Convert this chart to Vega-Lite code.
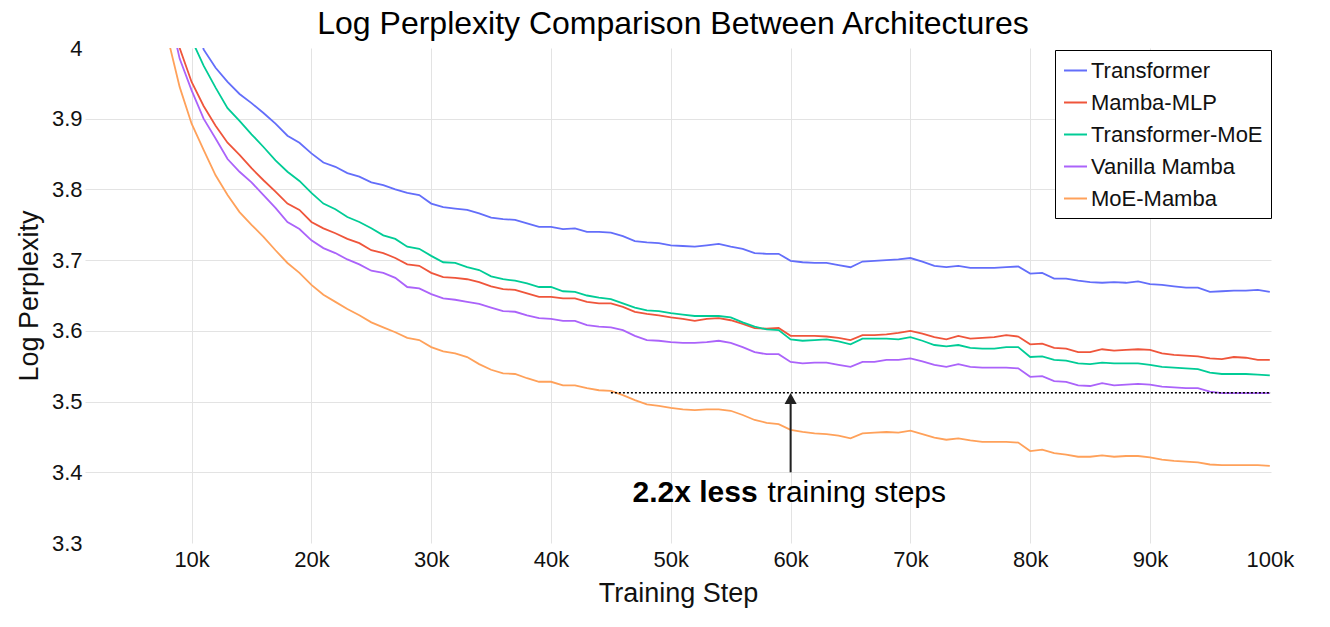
{
  "$schema": "https://vega.github.io/schema/vega-lite/v6.json",
  "description": "Log perplexity vs training step for five architectures.",
  "autosize": {"type": "none"},
  "width": 1186,
  "height": 495,
  "padding": {"left": 85, "top": 48, "right": 59, "bottom": 84},
  "title": {
    "text": "Log Perplexity Comparison Between Architectures",
    "fontSize": 32,
    "fontWeight": "normal",
    "color": "#000",
    "anchor": "middle",
    "offset": -4,
    "dx": -5
  },
  "data": {
    "values": [
      {"step": 10000, "model": "Transformer", "logppl": 4.08},
      {"step": 11000, "model": "Transformer", "logppl": 3.998},
      {"step": 12000, "model": "Transformer", "logppl": 3.972},
      {"step": 13000, "model": "Transformer", "logppl": 3.952},
      {"step": 14000, "model": "Transformer", "logppl": 3.935},
      {"step": 15000, "model": "Transformer", "logppl": 3.922},
      {"step": 16000, "model": "Transformer", "logppl": 3.908},
      {"step": 17000, "model": "Transformer", "logppl": 3.893},
      {"step": 18000, "model": "Transformer", "logppl": 3.876},
      {"step": 19000, "model": "Transformer", "logppl": 3.866},
      {"step": 20000, "model": "Transformer", "logppl": 3.851},
      {"step": 21000, "model": "Transformer", "logppl": 3.838},
      {"step": 22000, "model": "Transformer", "logppl": 3.832},
      {"step": 23000, "model": "Transformer", "logppl": 3.823},
      {"step": 24000, "model": "Transformer", "logppl": 3.818},
      {"step": 25000, "model": "Transformer", "logppl": 3.81},
      {"step": 26000, "model": "Transformer", "logppl": 3.806},
      {"step": 27000, "model": "Transformer", "logppl": 3.8},
      {"step": 28000, "model": "Transformer", "logppl": 3.795},
      {"step": 29000, "model": "Transformer", "logppl": 3.792},
      {"step": 30000, "model": "Transformer", "logppl": 3.78},
      {"step": 31000, "model": "Transformer", "logppl": 3.775},
      {"step": 32000, "model": "Transformer", "logppl": 3.773},
      {"step": 33000, "model": "Transformer", "logppl": 3.771},
      {"step": 34000, "model": "Transformer", "logppl": 3.766},
      {"step": 35000, "model": "Transformer", "logppl": 3.76},
      {"step": 36000, "model": "Transformer", "logppl": 3.758},
      {"step": 37000, "model": "Transformer", "logppl": 3.757},
      {"step": 38000, "model": "Transformer", "logppl": 3.752},
      {"step": 39000, "model": "Transformer", "logppl": 3.747},
      {"step": 40000, "model": "Transformer", "logppl": 3.747},
      {"step": 41000, "model": "Transformer", "logppl": 3.744},
      {"step": 42000, "model": "Transformer", "logppl": 3.745},
      {"step": 43000, "model": "Transformer", "logppl": 3.74},
      {"step": 44000, "model": "Transformer", "logppl": 3.74},
      {"step": 45000, "model": "Transformer", "logppl": 3.739},
      {"step": 46000, "model": "Transformer", "logppl": 3.734},
      {"step": 47000, "model": "Transformer", "logppl": 3.727},
      {"step": 48000, "model": "Transformer", "logppl": 3.725},
      {"step": 49000, "model": "Transformer", "logppl": 3.724},
      {"step": 50000, "model": "Transformer", "logppl": 3.721},
      {"step": 51000, "model": "Transformer", "logppl": 3.72},
      {"step": 52000, "model": "Transformer", "logppl": 3.719},
      {"step": 53000, "model": "Transformer", "logppl": 3.721},
      {"step": 54000, "model": "Transformer", "logppl": 3.723},
      {"step": 55000, "model": "Transformer", "logppl": 3.719},
      {"step": 56000, "model": "Transformer", "logppl": 3.716},
      {"step": 57000, "model": "Transformer", "logppl": 3.71},
      {"step": 58000, "model": "Transformer", "logppl": 3.709},
      {"step": 59000, "model": "Transformer", "logppl": 3.709},
      {"step": 60000, "model": "Transformer", "logppl": 3.699},
      {"step": 61000, "model": "Transformer", "logppl": 3.697},
      {"step": 62000, "model": "Transformer", "logppl": 3.696},
      {"step": 63000, "model": "Transformer", "logppl": 3.696},
      {"step": 64000, "model": "Transformer", "logppl": 3.693},
      {"step": 65000, "model": "Transformer", "logppl": 3.69},
      {"step": 66000, "model": "Transformer", "logppl": 3.698},
      {"step": 67000, "model": "Transformer", "logppl": 3.699},
      {"step": 68000, "model": "Transformer", "logppl": 3.7},
      {"step": 69000, "model": "Transformer", "logppl": 3.701},
      {"step": 70000, "model": "Transformer", "logppl": 3.703},
      {"step": 71000, "model": "Transformer", "logppl": 3.698},
      {"step": 72000, "model": "Transformer", "logppl": 3.692},
      {"step": 73000, "model": "Transformer", "logppl": 3.69},
      {"step": 74000, "model": "Transformer", "logppl": 3.692},
      {"step": 75000, "model": "Transformer", "logppl": 3.689},
      {"step": 76000, "model": "Transformer", "logppl": 3.689},
      {"step": 77000, "model": "Transformer", "logppl": 3.689},
      {"step": 78000, "model": "Transformer", "logppl": 3.69},
      {"step": 79000, "model": "Transformer", "logppl": 3.691},
      {"step": 80000, "model": "Transformer", "logppl": 3.681},
      {"step": 81000, "model": "Transformer", "logppl": 3.682},
      {"step": 82000, "model": "Transformer", "logppl": 3.674},
      {"step": 83000, "model": "Transformer", "logppl": 3.674},
      {"step": 84000, "model": "Transformer", "logppl": 3.671},
      {"step": 85000, "model": "Transformer", "logppl": 3.669},
      {"step": 86000, "model": "Transformer", "logppl": 3.668},
      {"step": 87000, "model": "Transformer", "logppl": 3.669},
      {"step": 88000, "model": "Transformer", "logppl": 3.668},
      {"step": 89000, "model": "Transformer", "logppl": 3.67},
      {"step": 90000, "model": "Transformer", "logppl": 3.666},
      {"step": 91000, "model": "Transformer", "logppl": 3.665},
      {"step": 92000, "model": "Transformer", "logppl": 3.663},
      {"step": 93000, "model": "Transformer", "logppl": 3.661},
      {"step": 94000, "model": "Transformer", "logppl": 3.661},
      {"step": 95000, "model": "Transformer", "logppl": 3.655},
      {"step": 96000, "model": "Transformer", "logppl": 3.656},
      {"step": 97000, "model": "Transformer", "logppl": 3.657},
      {"step": 98000, "model": "Transformer", "logppl": 3.657},
      {"step": 99000, "model": "Transformer", "logppl": 3.658},
      {"step": 100000, "model": "Transformer", "logppl": 3.655},

      {"step": 8000, "model": "Mamba-MLP", "logppl": 4.09},
      {"step": 9000, "model": "Mamba-MLP", "logppl": 4.0},
      {"step": 10000, "model": "Mamba-MLP", "logppl": 3.952},
      {"step": 11000, "model": "Mamba-MLP", "logppl": 3.918},
      {"step": 12000, "model": "Mamba-MLP", "logppl": 3.89},
      {"step": 13000, "model": "Mamba-MLP", "logppl": 3.866},
      {"step": 14000, "model": "Mamba-MLP", "logppl": 3.849},
      {"step": 15000, "model": "Mamba-MLP", "logppl": 3.83},
      {"step": 16000, "model": "Mamba-MLP", "logppl": 3.813},
      {"step": 17000, "model": "Mamba-MLP", "logppl": 3.797},
      {"step": 18000, "model": "Mamba-MLP", "logppl": 3.78},
      {"step": 19000, "model": "Mamba-MLP", "logppl": 3.771},
      {"step": 20000, "model": "Mamba-MLP", "logppl": 3.754},
      {"step": 21000, "model": "Mamba-MLP", "logppl": 3.745},
      {"step": 22000, "model": "Mamba-MLP", "logppl": 3.738},
      {"step": 23000, "model": "Mamba-MLP", "logppl": 3.73},
      {"step": 24000, "model": "Mamba-MLP", "logppl": 3.724},
      {"step": 25000, "model": "Mamba-MLP", "logppl": 3.714},
      {"step": 26000, "model": "Mamba-MLP", "logppl": 3.71},
      {"step": 27000, "model": "Mamba-MLP", "logppl": 3.703},
      {"step": 28000, "model": "Mamba-MLP", "logppl": 3.694},
      {"step": 29000, "model": "Mamba-MLP", "logppl": 3.692},
      {"step": 30000, "model": "Mamba-MLP", "logppl": 3.682},
      {"step": 31000, "model": "Mamba-MLP", "logppl": 3.676},
      {"step": 32000, "model": "Mamba-MLP", "logppl": 3.675},
      {"step": 33000, "model": "Mamba-MLP", "logppl": 3.673},
      {"step": 34000, "model": "Mamba-MLP", "logppl": 3.669},
      {"step": 35000, "model": "Mamba-MLP", "logppl": 3.663},
      {"step": 36000, "model": "Mamba-MLP", "logppl": 3.659},
      {"step": 37000, "model": "Mamba-MLP", "logppl": 3.658},
      {"step": 38000, "model": "Mamba-MLP", "logppl": 3.653},
      {"step": 39000, "model": "Mamba-MLP", "logppl": 3.648},
      {"step": 40000, "model": "Mamba-MLP", "logppl": 3.648},
      {"step": 41000, "model": "Mamba-MLP", "logppl": 3.646},
      {"step": 42000, "model": "Mamba-MLP", "logppl": 3.646},
      {"step": 43000, "model": "Mamba-MLP", "logppl": 3.641},
      {"step": 44000, "model": "Mamba-MLP", "logppl": 3.639},
      {"step": 45000, "model": "Mamba-MLP", "logppl": 3.639},
      {"step": 46000, "model": "Mamba-MLP", "logppl": 3.634},
      {"step": 47000, "model": "Mamba-MLP", "logppl": 3.627},
      {"step": 48000, "model": "Mamba-MLP", "logppl": 3.624},
      {"step": 49000, "model": "Mamba-MLP", "logppl": 3.622},
      {"step": 50000, "model": "Mamba-MLP", "logppl": 3.619},
      {"step": 51000, "model": "Mamba-MLP", "logppl": 3.617},
      {"step": 52000, "model": "Mamba-MLP", "logppl": 3.614},
      {"step": 53000, "model": "Mamba-MLP", "logppl": 3.617},
      {"step": 54000, "model": "Mamba-MLP", "logppl": 3.618},
      {"step": 55000, "model": "Mamba-MLP", "logppl": 3.615},
      {"step": 56000, "model": "Mamba-MLP", "logppl": 3.61},
      {"step": 57000, "model": "Mamba-MLP", "logppl": 3.604},
      {"step": 58000, "model": "Mamba-MLP", "logppl": 3.603},
      {"step": 59000, "model": "Mamba-MLP", "logppl": 3.604},
      {"step": 60000, "model": "Mamba-MLP", "logppl": 3.593},
      {"step": 61000, "model": "Mamba-MLP", "logppl": 3.593},
      {"step": 62000, "model": "Mamba-MLP", "logppl": 3.593},
      {"step": 63000, "model": "Mamba-MLP", "logppl": 3.592},
      {"step": 64000, "model": "Mamba-MLP", "logppl": 3.59},
      {"step": 65000, "model": "Mamba-MLP", "logppl": 3.587},
      {"step": 66000, "model": "Mamba-MLP", "logppl": 3.594},
      {"step": 67000, "model": "Mamba-MLP", "logppl": 3.594},
      {"step": 68000, "model": "Mamba-MLP", "logppl": 3.595},
      {"step": 69000, "model": "Mamba-MLP", "logppl": 3.597},
      {"step": 70000, "model": "Mamba-MLP", "logppl": 3.6},
      {"step": 71000, "model": "Mamba-MLP", "logppl": 3.596},
      {"step": 72000, "model": "Mamba-MLP", "logppl": 3.591},
      {"step": 73000, "model": "Mamba-MLP", "logppl": 3.588},
      {"step": 74000, "model": "Mamba-MLP", "logppl": 3.593},
      {"step": 75000, "model": "Mamba-MLP", "logppl": 3.589},
      {"step": 76000, "model": "Mamba-MLP", "logppl": 3.59},
      {"step": 77000, "model": "Mamba-MLP", "logppl": 3.591},
      {"step": 78000, "model": "Mamba-MLP", "logppl": 3.594},
      {"step": 79000, "model": "Mamba-MLP", "logppl": 3.592},
      {"step": 80000, "model": "Mamba-MLP", "logppl": 3.581},
      {"step": 81000, "model": "Mamba-MLP", "logppl": 3.582},
      {"step": 82000, "model": "Mamba-MLP", "logppl": 3.576},
      {"step": 83000, "model": "Mamba-MLP", "logppl": 3.575},
      {"step": 84000, "model": "Mamba-MLP", "logppl": 3.57},
      {"step": 85000, "model": "Mamba-MLP", "logppl": 3.57},
      {"step": 86000, "model": "Mamba-MLP", "logppl": 3.574},
      {"step": 87000, "model": "Mamba-MLP", "logppl": 3.572},
      {"step": 88000, "model": "Mamba-MLP", "logppl": 3.573},
      {"step": 89000, "model": "Mamba-MLP", "logppl": 3.574},
      {"step": 90000, "model": "Mamba-MLP", "logppl": 3.573},
      {"step": 91000, "model": "Mamba-MLP", "logppl": 3.568},
      {"step": 92000, "model": "Mamba-MLP", "logppl": 3.566},
      {"step": 93000, "model": "Mamba-MLP", "logppl": 3.565},
      {"step": 94000, "model": "Mamba-MLP", "logppl": 3.564},
      {"step": 95000, "model": "Mamba-MLP", "logppl": 3.561},
      {"step": 96000, "model": "Mamba-MLP", "logppl": 3.56},
      {"step": 97000, "model": "Mamba-MLP", "logppl": 3.563},
      {"step": 98000, "model": "Mamba-MLP", "logppl": 3.562},
      {"step": 99000, "model": "Mamba-MLP", "logppl": 3.559},
      {"step": 100000, "model": "Mamba-MLP", "logppl": 3.559},

      {"step": 9000, "model": "Transformer-MoE", "logppl": 4.06},
      {"step": 10000, "model": "Transformer-MoE", "logppl": 4.012},
      {"step": 11000, "model": "Transformer-MoE", "logppl": 3.975},
      {"step": 12000, "model": "Transformer-MoE", "logppl": 3.944},
      {"step": 13000, "model": "Transformer-MoE", "logppl": 3.915},
      {"step": 14000, "model": "Transformer-MoE", "logppl": 3.897},
      {"step": 15000, "model": "Transformer-MoE", "logppl": 3.878},
      {"step": 16000, "model": "Transformer-MoE", "logppl": 3.86},
      {"step": 17000, "model": "Transformer-MoE", "logppl": 3.841},
      {"step": 18000, "model": "Transformer-MoE", "logppl": 3.825},
      {"step": 19000, "model": "Transformer-MoE", "logppl": 3.812},
      {"step": 20000, "model": "Transformer-MoE", "logppl": 3.795},
      {"step": 21000, "model": "Transformer-MoE", "logppl": 3.78},
      {"step": 22000, "model": "Transformer-MoE", "logppl": 3.772},
      {"step": 23000, "model": "Transformer-MoE", "logppl": 3.761},
      {"step": 24000, "model": "Transformer-MoE", "logppl": 3.754},
      {"step": 25000, "model": "Transformer-MoE", "logppl": 3.745},
      {"step": 26000, "model": "Transformer-MoE", "logppl": 3.735},
      {"step": 27000, "model": "Transformer-MoE", "logppl": 3.73},
      {"step": 28000, "model": "Transformer-MoE", "logppl": 3.719},
      {"step": 29000, "model": "Transformer-MoE", "logppl": 3.716},
      {"step": 30000, "model": "Transformer-MoE", "logppl": 3.706},
      {"step": 31000, "model": "Transformer-MoE", "logppl": 3.697},
      {"step": 32000, "model": "Transformer-MoE", "logppl": 3.696},
      {"step": 33000, "model": "Transformer-MoE", "logppl": 3.69},
      {"step": 34000, "model": "Transformer-MoE", "logppl": 3.686},
      {"step": 35000, "model": "Transformer-MoE", "logppl": 3.677},
      {"step": 36000, "model": "Transformer-MoE", "logppl": 3.673},
      {"step": 37000, "model": "Transformer-MoE", "logppl": 3.671},
      {"step": 38000, "model": "Transformer-MoE", "logppl": 3.667},
      {"step": 39000, "model": "Transformer-MoE", "logppl": 3.662},
      {"step": 40000, "model": "Transformer-MoE", "logppl": 3.662},
      {"step": 41000, "model": "Transformer-MoE", "logppl": 3.656},
      {"step": 42000, "model": "Transformer-MoE", "logppl": 3.655},
      {"step": 43000, "model": "Transformer-MoE", "logppl": 3.65},
      {"step": 44000, "model": "Transformer-MoE", "logppl": 3.647},
      {"step": 45000, "model": "Transformer-MoE", "logppl": 3.645},
      {"step": 46000, "model": "Transformer-MoE", "logppl": 3.639},
      {"step": 47000, "model": "Transformer-MoE", "logppl": 3.633},
      {"step": 48000, "model": "Transformer-MoE", "logppl": 3.629},
      {"step": 49000, "model": "Transformer-MoE", "logppl": 3.628},
      {"step": 50000, "model": "Transformer-MoE", "logppl": 3.625},
      {"step": 51000, "model": "Transformer-MoE", "logppl": 3.623},
      {"step": 52000, "model": "Transformer-MoE", "logppl": 3.621},
      {"step": 53000, "model": "Transformer-MoE", "logppl": 3.621},
      {"step": 54000, "model": "Transformer-MoE", "logppl": 3.621},
      {"step": 55000, "model": "Transformer-MoE", "logppl": 3.619},
      {"step": 56000, "model": "Transformer-MoE", "logppl": 3.612},
      {"step": 57000, "model": "Transformer-MoE", "logppl": 3.606},
      {"step": 58000, "model": "Transformer-MoE", "logppl": 3.602},
      {"step": 59000, "model": "Transformer-MoE", "logppl": 3.601},
      {"step": 60000, "model": "Transformer-MoE", "logppl": 3.588},
      {"step": 61000, "model": "Transformer-MoE", "logppl": 3.586},
      {"step": 62000, "model": "Transformer-MoE", "logppl": 3.587},
      {"step": 63000, "model": "Transformer-MoE", "logppl": 3.588},
      {"step": 64000, "model": "Transformer-MoE", "logppl": 3.585},
      {"step": 65000, "model": "Transformer-MoE", "logppl": 3.581},
      {"step": 66000, "model": "Transformer-MoE", "logppl": 3.589},
      {"step": 67000, "model": "Transformer-MoE", "logppl": 3.589},
      {"step": 68000, "model": "Transformer-MoE", "logppl": 3.589},
      {"step": 69000, "model": "Transformer-MoE", "logppl": 3.588},
      {"step": 70000, "model": "Transformer-MoE", "logppl": 3.591},
      {"step": 71000, "model": "Transformer-MoE", "logppl": 3.586},
      {"step": 72000, "model": "Transformer-MoE", "logppl": 3.58},
      {"step": 73000, "model": "Transformer-MoE", "logppl": 3.578},
      {"step": 74000, "model": "Transformer-MoE", "logppl": 3.58},
      {"step": 75000, "model": "Transformer-MoE", "logppl": 3.576},
      {"step": 76000, "model": "Transformer-MoE", "logppl": 3.575},
      {"step": 77000, "model": "Transformer-MoE", "logppl": 3.575},
      {"step": 78000, "model": "Transformer-MoE", "logppl": 3.577},
      {"step": 79000, "model": "Transformer-MoE", "logppl": 3.577},
      {"step": 80000, "model": "Transformer-MoE", "logppl": 3.563},
      {"step": 81000, "model": "Transformer-MoE", "logppl": 3.564},
      {"step": 82000, "model": "Transformer-MoE", "logppl": 3.559},
      {"step": 83000, "model": "Transformer-MoE", "logppl": 3.558},
      {"step": 84000, "model": "Transformer-MoE", "logppl": 3.554},
      {"step": 85000, "model": "Transformer-MoE", "logppl": 3.553},
      {"step": 86000, "model": "Transformer-MoE", "logppl": 3.555},
      {"step": 87000, "model": "Transformer-MoE", "logppl": 3.554},
      {"step": 88000, "model": "Transformer-MoE", "logppl": 3.554},
      {"step": 89000, "model": "Transformer-MoE", "logppl": 3.554},
      {"step": 90000, "model": "Transformer-MoE", "logppl": 3.552},
      {"step": 91000, "model": "Transformer-MoE", "logppl": 3.549},
      {"step": 92000, "model": "Transformer-MoE", "logppl": 3.548},
      {"step": 93000, "model": "Transformer-MoE", "logppl": 3.547},
      {"step": 94000, "model": "Transformer-MoE", "logppl": 3.546},
      {"step": 95000, "model": "Transformer-MoE", "logppl": 3.541},
      {"step": 96000, "model": "Transformer-MoE", "logppl": 3.539},
      {"step": 97000, "model": "Transformer-MoE", "logppl": 3.539},
      {"step": 98000, "model": "Transformer-MoE", "logppl": 3.539},
      {"step": 99000, "model": "Transformer-MoE", "logppl": 3.538},
      {"step": 100000, "model": "Transformer-MoE", "logppl": 3.537},

      {"step": 8000, "model": "Vanilla Mamba", "logppl": 4.06},
      {"step": 9000, "model": "Vanilla Mamba", "logppl": 3.985},
      {"step": 10000, "model": "Vanilla Mamba", "logppl": 3.94},
      {"step": 11000, "model": "Vanilla Mamba", "logppl": 3.9},
      {"step": 12000, "model": "Vanilla Mamba", "logppl": 3.872},
      {"step": 13000, "model": "Vanilla Mamba", "logppl": 3.843},
      {"step": 14000, "model": "Vanilla Mamba", "logppl": 3.825},
      {"step": 15000, "model": "Vanilla Mamba", "logppl": 3.81},
      {"step": 16000, "model": "Vanilla Mamba", "logppl": 3.792},
      {"step": 17000, "model": "Vanilla Mamba", "logppl": 3.774},
      {"step": 18000, "model": "Vanilla Mamba", "logppl": 3.754},
      {"step": 19000, "model": "Vanilla Mamba", "logppl": 3.744},
      {"step": 20000, "model": "Vanilla Mamba", "logppl": 3.728},
      {"step": 21000, "model": "Vanilla Mamba", "logppl": 3.717},
      {"step": 22000, "model": "Vanilla Mamba", "logppl": 3.71},
      {"step": 23000, "model": "Vanilla Mamba", "logppl": 3.701},
      {"step": 24000, "model": "Vanilla Mamba", "logppl": 3.694},
      {"step": 25000, "model": "Vanilla Mamba", "logppl": 3.685},
      {"step": 26000, "model": "Vanilla Mamba", "logppl": 3.682},
      {"step": 27000, "model": "Vanilla Mamba", "logppl": 3.675},
      {"step": 28000, "model": "Vanilla Mamba", "logppl": 3.662},
      {"step": 29000, "model": "Vanilla Mamba", "logppl": 3.66},
      {"step": 30000, "model": "Vanilla Mamba", "logppl": 3.652},
      {"step": 31000, "model": "Vanilla Mamba", "logppl": 3.646},
      {"step": 32000, "model": "Vanilla Mamba", "logppl": 3.644},
      {"step": 33000, "model": "Vanilla Mamba", "logppl": 3.641},
      {"step": 34000, "model": "Vanilla Mamba", "logppl": 3.638},
      {"step": 35000, "model": "Vanilla Mamba", "logppl": 3.633},
      {"step": 36000, "model": "Vanilla Mamba", "logppl": 3.628},
      {"step": 37000, "model": "Vanilla Mamba", "logppl": 3.627},
      {"step": 38000, "model": "Vanilla Mamba", "logppl": 3.622},
      {"step": 39000, "model": "Vanilla Mamba", "logppl": 3.618},
      {"step": 40000, "model": "Vanilla Mamba", "logppl": 3.617},
      {"step": 41000, "model": "Vanilla Mamba", "logppl": 3.614},
      {"step": 42000, "model": "Vanilla Mamba", "logppl": 3.614},
      {"step": 43000, "model": "Vanilla Mamba", "logppl": 3.608},
      {"step": 44000, "model": "Vanilla Mamba", "logppl": 3.606},
      {"step": 45000, "model": "Vanilla Mamba", "logppl": 3.605},
      {"step": 46000, "model": "Vanilla Mamba", "logppl": 3.601},
      {"step": 47000, "model": "Vanilla Mamba", "logppl": 3.593},
      {"step": 48000, "model": "Vanilla Mamba", "logppl": 3.587},
      {"step": 49000, "model": "Vanilla Mamba", "logppl": 3.586},
      {"step": 50000, "model": "Vanilla Mamba", "logppl": 3.584},
      {"step": 51000, "model": "Vanilla Mamba", "logppl": 3.583},
      {"step": 52000, "model": "Vanilla Mamba", "logppl": 3.583},
      {"step": 53000, "model": "Vanilla Mamba", "logppl": 3.584},
      {"step": 54000, "model": "Vanilla Mamba", "logppl": 3.586},
      {"step": 55000, "model": "Vanilla Mamba", "logppl": 3.583},
      {"step": 56000, "model": "Vanilla Mamba", "logppl": 3.577},
      {"step": 57000, "model": "Vanilla Mamba", "logppl": 3.57},
      {"step": 58000, "model": "Vanilla Mamba", "logppl": 3.567},
      {"step": 59000, "model": "Vanilla Mamba", "logppl": 3.567},
      {"step": 60000, "model": "Vanilla Mamba", "logppl": 3.556},
      {"step": 61000, "model": "Vanilla Mamba", "logppl": 3.554},
      {"step": 62000, "model": "Vanilla Mamba", "logppl": 3.555},
      {"step": 63000, "model": "Vanilla Mamba", "logppl": 3.555},
      {"step": 64000, "model": "Vanilla Mamba", "logppl": 3.552},
      {"step": 65000, "model": "Vanilla Mamba", "logppl": 3.549},
      {"step": 66000, "model": "Vanilla Mamba", "logppl": 3.556},
      {"step": 67000, "model": "Vanilla Mamba", "logppl": 3.556},
      {"step": 68000, "model": "Vanilla Mamba", "logppl": 3.559},
      {"step": 69000, "model": "Vanilla Mamba", "logppl": 3.559},
      {"step": 70000, "model": "Vanilla Mamba", "logppl": 3.561},
      {"step": 71000, "model": "Vanilla Mamba", "logppl": 3.557},
      {"step": 72000, "model": "Vanilla Mamba", "logppl": 3.552},
      {"step": 73000, "model": "Vanilla Mamba", "logppl": 3.549},
      {"step": 74000, "model": "Vanilla Mamba", "logppl": 3.553},
      {"step": 75000, "model": "Vanilla Mamba", "logppl": 3.549},
      {"step": 76000, "model": "Vanilla Mamba", "logppl": 3.548},
      {"step": 77000, "model": "Vanilla Mamba", "logppl": 3.548},
      {"step": 78000, "model": "Vanilla Mamba", "logppl": 3.548},
      {"step": 79000, "model": "Vanilla Mamba", "logppl": 3.547},
      {"step": 80000, "model": "Vanilla Mamba", "logppl": 3.535},
      {"step": 81000, "model": "Vanilla Mamba", "logppl": 3.536},
      {"step": 82000, "model": "Vanilla Mamba", "logppl": 3.529},
      {"step": 83000, "model": "Vanilla Mamba", "logppl": 3.528},
      {"step": 84000, "model": "Vanilla Mamba", "logppl": 3.523},
      {"step": 85000, "model": "Vanilla Mamba", "logppl": 3.522},
      {"step": 86000, "model": "Vanilla Mamba", "logppl": 3.526},
      {"step": 87000, "model": "Vanilla Mamba", "logppl": 3.523},
      {"step": 88000, "model": "Vanilla Mamba", "logppl": 3.524},
      {"step": 89000, "model": "Vanilla Mamba", "logppl": 3.525},
      {"step": 90000, "model": "Vanilla Mamba", "logppl": 3.524},
      {"step": 91000, "model": "Vanilla Mamba", "logppl": 3.521},
      {"step": 92000, "model": "Vanilla Mamba", "logppl": 3.52},
      {"step": 93000, "model": "Vanilla Mamba", "logppl": 3.519},
      {"step": 94000, "model": "Vanilla Mamba", "logppl": 3.519},
      {"step": 95000, "model": "Vanilla Mamba", "logppl": 3.514},
      {"step": 96000, "model": "Vanilla Mamba", "logppl": 3.512},
      {"step": 97000, "model": "Vanilla Mamba", "logppl": 3.512},
      {"step": 98000, "model": "Vanilla Mamba", "logppl": 3.512},
      {"step": 99000, "model": "Vanilla Mamba", "logppl": 3.512},
      {"step": 100000, "model": "Vanilla Mamba", "logppl": 3.512},

      {"step": 7000, "model": "MoE-Mamba", "logppl": 4.1},
      {"step": 8000, "model": "MoE-Mamba", "logppl": 4.015},
      {"step": 9000, "model": "MoE-Mamba", "logppl": 3.945},
      {"step": 10000, "model": "MoE-Mamba", "logppl": 3.893},
      {"step": 11000, "model": "MoE-Mamba", "logppl": 3.856},
      {"step": 12000, "model": "MoE-Mamba", "logppl": 3.82},
      {"step": 13000, "model": "MoE-Mamba", "logppl": 3.792},
      {"step": 14000, "model": "MoE-Mamba", "logppl": 3.768},
      {"step": 15000, "model": "MoE-Mamba", "logppl": 3.75},
      {"step": 16000, "model": "MoE-Mamba", "logppl": 3.733},
      {"step": 17000, "model": "MoE-Mamba", "logppl": 3.714},
      {"step": 18000, "model": "MoE-Mamba", "logppl": 3.696},
      {"step": 19000, "model": "MoE-Mamba", "logppl": 3.682},
      {"step": 20000, "model": "MoE-Mamba", "logppl": 3.665},
      {"step": 21000, "model": "MoE-Mamba", "logppl": 3.651},
      {"step": 22000, "model": "MoE-Mamba", "logppl": 3.641},
      {"step": 23000, "model": "MoE-Mamba", "logppl": 3.631},
      {"step": 24000, "model": "MoE-Mamba", "logppl": 3.622},
      {"step": 25000, "model": "MoE-Mamba", "logppl": 3.612},
      {"step": 26000, "model": "MoE-Mamba", "logppl": 3.605},
      {"step": 27000, "model": "MoE-Mamba", "logppl": 3.598},
      {"step": 28000, "model": "MoE-Mamba", "logppl": 3.59},
      {"step": 29000, "model": "MoE-Mamba", "logppl": 3.587},
      {"step": 30000, "model": "MoE-Mamba", "logppl": 3.577},
      {"step": 31000, "model": "MoE-Mamba", "logppl": 3.571},
      {"step": 32000, "model": "MoE-Mamba", "logppl": 3.568},
      {"step": 33000, "model": "MoE-Mamba", "logppl": 3.563},
      {"step": 34000, "model": "MoE-Mamba", "logppl": 3.553},
      {"step": 35000, "model": "MoE-Mamba", "logppl": 3.545},
      {"step": 36000, "model": "MoE-Mamba", "logppl": 3.54},
      {"step": 37000, "model": "MoE-Mamba", "logppl": 3.539},
      {"step": 38000, "model": "MoE-Mamba", "logppl": 3.533},
      {"step": 39000, "model": "MoE-Mamba", "logppl": 3.528},
      {"step": 40000, "model": "MoE-Mamba", "logppl": 3.528},
      {"step": 41000, "model": "MoE-Mamba", "logppl": 3.523},
      {"step": 42000, "model": "MoE-Mamba", "logppl": 3.523},
      {"step": 43000, "model": "MoE-Mamba", "logppl": 3.519},
      {"step": 44000, "model": "MoE-Mamba", "logppl": 3.516},
      {"step": 45000, "model": "MoE-Mamba", "logppl": 3.515},
      {"step": 46000, "model": "MoE-Mamba", "logppl": 3.509},
      {"step": 47000, "model": "MoE-Mamba", "logppl": 3.502},
      {"step": 48000, "model": "MoE-Mamba", "logppl": 3.496},
      {"step": 49000, "model": "MoE-Mamba", "logppl": 3.494},
      {"step": 50000, "model": "MoE-Mamba", "logppl": 3.491},
      {"step": 51000, "model": "MoE-Mamba", "logppl": 3.489},
      {"step": 52000, "model": "MoE-Mamba", "logppl": 3.488},
      {"step": 53000, "model": "MoE-Mamba", "logppl": 3.489},
      {"step": 54000, "model": "MoE-Mamba", "logppl": 3.489},
      {"step": 55000, "model": "MoE-Mamba", "logppl": 3.487},
      {"step": 56000, "model": "MoE-Mamba", "logppl": 3.481},
      {"step": 57000, "model": "MoE-Mamba", "logppl": 3.474},
      {"step": 58000, "model": "MoE-Mamba", "logppl": 3.47},
      {"step": 59000, "model": "MoE-Mamba", "logppl": 3.468},
      {"step": 60000, "model": "MoE-Mamba", "logppl": 3.46},
      {"step": 61000, "model": "MoE-Mamba", "logppl": 3.457},
      {"step": 62000, "model": "MoE-Mamba", "logppl": 3.455},
      {"step": 63000, "model": "MoE-Mamba", "logppl": 3.454},
      {"step": 64000, "model": "MoE-Mamba", "logppl": 3.452},
      {"step": 65000, "model": "MoE-Mamba", "logppl": 3.448},
      {"step": 66000, "model": "MoE-Mamba", "logppl": 3.455},
      {"step": 67000, "model": "MoE-Mamba", "logppl": 3.456},
      {"step": 68000, "model": "MoE-Mamba", "logppl": 3.457},
      {"step": 69000, "model": "MoE-Mamba", "logppl": 3.456},
      {"step": 70000, "model": "MoE-Mamba", "logppl": 3.459},
      {"step": 71000, "model": "MoE-Mamba", "logppl": 3.454},
      {"step": 72000, "model": "MoE-Mamba", "logppl": 3.449},
      {"step": 73000, "model": "MoE-Mamba", "logppl": 3.446},
      {"step": 74000, "model": "MoE-Mamba", "logppl": 3.448},
      {"step": 75000, "model": "MoE-Mamba", "logppl": 3.445},
      {"step": 76000, "model": "MoE-Mamba", "logppl": 3.443},
      {"step": 77000, "model": "MoE-Mamba", "logppl": 3.443},
      {"step": 78000, "model": "MoE-Mamba", "logppl": 3.443},
      {"step": 79000, "model": "MoE-Mamba", "logppl": 3.442},
      {"step": 80000, "model": "MoE-Mamba", "logppl": 3.43},
      {"step": 81000, "model": "MoE-Mamba", "logppl": 3.432},
      {"step": 82000, "model": "MoE-Mamba", "logppl": 3.427},
      {"step": 83000, "model": "MoE-Mamba", "logppl": 3.425},
      {"step": 84000, "model": "MoE-Mamba", "logppl": 3.422},
      {"step": 85000, "model": "MoE-Mamba", "logppl": 3.422},
      {"step": 86000, "model": "MoE-Mamba", "logppl": 3.424},
      {"step": 87000, "model": "MoE-Mamba", "logppl": 3.422},
      {"step": 88000, "model": "MoE-Mamba", "logppl": 3.423},
      {"step": 89000, "model": "MoE-Mamba", "logppl": 3.423},
      {"step": 90000, "model": "MoE-Mamba", "logppl": 3.421},
      {"step": 91000, "model": "MoE-Mamba", "logppl": 3.418},
      {"step": 92000, "model": "MoE-Mamba", "logppl": 3.416},
      {"step": 93000, "model": "MoE-Mamba", "logppl": 3.415},
      {"step": 94000, "model": "MoE-Mamba", "logppl": 3.414},
      {"step": 95000, "model": "MoE-Mamba", "logppl": 3.411},
      {"step": 96000, "model": "MoE-Mamba", "logppl": 3.41},
      {"step": 97000, "model": "MoE-Mamba", "logppl": 3.41},
      {"step": 98000, "model": "MoE-Mamba", "logppl": 3.41},
      {"step": 99000, "model": "MoE-Mamba", "logppl": 3.41},
      {"step": 100000, "model": "MoE-Mamba", "logppl": 3.409}
    ]
  },
  "layer": [
    {
      "mark": {"type": "line", "strokeWidth": 1.8, "clip": true},
      "encoding": {
        "x": {
          "field": "step",
          "type": "quantitative",
          "title": "Training Step",
          "scale": {"domain": [1100, 100100], "nice": false, "zero": false},
          "axis": {
            "values": [10000, 20000, 30000, 40000, 50000, 60000, 70000, 80000, 90000, 100000],
            "labelExpr": "datum.value / 1000 + 'k'",
            "labelPadding": 6,
            "titlePadding": 10,
            "gridColor": {"condition": {"test": "datum.value >= 100000", "value": "transparent"}, "value": "#e3e3e3"}
          }
        },
        "y": {
          "field": "logppl",
          "type": "quantitative",
          "title": "Log Perplexity",
          "scale": {"domain": [3.3, 4], "nice": false, "zero": false},
          "axis": {
            "values": [3.3, 3.4, 3.5, 3.6, 3.7, 3.8, 3.9, 4],
            "format": ".2~f",
            "labelPadding": 3,
            "titlePadding": 8,
            "gridColor": {"condition": {"test": "datum.value < 3.35 || datum.value > 3.95", "value": "transparent"}, "value": "#e3e3e3"}
          }
        },
        "color": {
          "field": "model",
          "type": "nominal",
          "scale": {
            "domain": ["Transformer", "Mamba-MLP", "Transformer-MoE", "Vanilla Mamba", "MoE-Mamba"],
            "range": ["#636efa", "#ef553b", "#00cc96", "#ab63fa", "#ffa15a"]
          },
          "legend": {
            "title": null,
            "orient": "none",
            "legendX": 970,
            "legendY": 2,
            "fillColor": "white",
            "strokeColor": "black",
            "padding": 8,
            "symbolType": "stroke",
            "symbolSize": 529,
            "symbolStrokeWidth": 2,
            "labelFontSize": 22,
            "labelColor": "#111",
            "labelOffset": 3,
            "labelLimit": 400,
            "rowPadding": 8
          }
        }
      }
    },
    {
      "data": {"values": [{}]},
      "mark": {"type": "rule", "color": "black", "strokeWidth": 1.5, "strokeDash": [2, 2]},
      "encoding": {
        "x": {"datum": 45000},
        "x2": {"datum": 100100},
        "y": {"datum": 3.5125}
      }
    },
    {
      "data": {"values": [{}]},
      "mark": {"type": "rule", "color": "#222", "strokeWidth": 2},
      "encoding": {
        "x": {"datum": 60000},
        "y": {"datum": 3.4},
        "y2": {"datum": 3.5}
      }
    },
    {
      "data": {"values": [{}]},
      "mark": {"type": "point", "shape": "M0,-1L1.1,1L-1.1,1Z", "filled": true, "size": 121, "color": "#222", "opacity": 1},
      "encoding": {
        "x": {"datum": 60000},
        "y": {"datum": 3.5043}
      }
    },
    {
      "data": {"values": [{}]},
      "mark": {"type": "text", "text": "2.2x less", "fontWeight": "bold", "fontSize": 30, "align": "right", "baseline": "alphabetic", "dx": -33, "color": "#000"},
      "encoding": {
        "x": {"datum": 60000},
        "y": {"datum": 3.3585}
      }
    },
    {
      "data": {"values": [{}]},
      "mark": {"type": "text", "text": "training steps", "fontSize": 30, "align": "left", "baseline": "alphabetic", "dx": -23, "color": "#000"},
      "encoding": {
        "x": {"datum": 60000},
        "y": {"datum": 3.3585}
      }
    }
  ],
  "config": {
    "font": "Liberation Sans",
    "view": {"stroke": null},
    "axis": {
      "domain": false,
      "ticks": false,
      "labelFontSize": 22,
      "labelColor": "#111",
      "titleFontSize": 27,
      "titleFontWeight": "normal",
      "titleColor": "#111",
      "gridWidth": 1
    }
  }
}
